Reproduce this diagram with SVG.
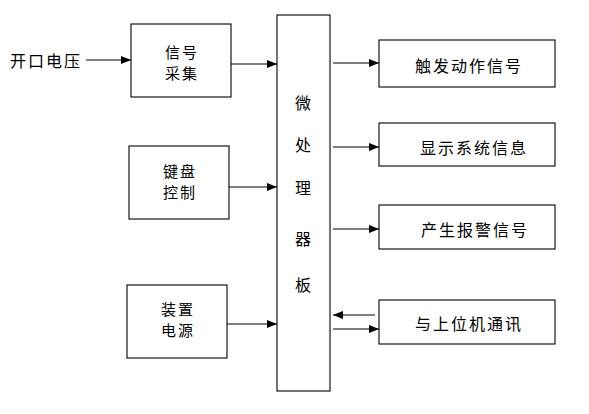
<svg xmlns="http://www.w3.org/2000/svg" width="589" height="414" viewBox="0 0 589 414">
<style>
.b{fill:#fff;stroke:#000;stroke-width:1.1}
text{font-family:"Noto Sans CJK SC","Liberation Sans",sans-serif;font-size:16px;fill:#000;text-anchor:middle;dominant-baseline:central;letter-spacing:2px}
.s{font-size:15px;letter-spacing:2px}
.c line{stroke:#000;stroke-width:1.1}
</style>
<defs>
<marker id="a" markerWidth="10" markerHeight="8" refX="10" refY="4" orient="auto" markerUnits="userSpaceOnUse">
<path d="M0,0 L10,4 L0,8 z" fill="#000"/>
</marker>
</defs>
<rect width="589" height="414" fill="#fff"/>
<text x="46" y="60">开口电压</text>
<g id="n1"><rect class="b" x="131" y="24" width="100" height="73"/><text class="s" x="182" y="51">信号</text><text class="s" x="182" y="72">采集</text></g>
<g id="n2"><rect class="b" x="129" y="146" width="100" height="73"/><text class="s" x="180" y="170">键盘</text><text class="s" x="180" y="191">控制</text></g>
<g id="n3"><rect class="b" x="127" y="285" width="100" height="73"/><text class="s" x="178" y="308">装置</text><text class="s" x="178" y="329">电源</text></g>
<g id="p"><rect class="b" x="277" y="15" width="53" height="376"/>
<text x="304" y="102">微</text><text x="304" y="144">处</text><text x="304" y="187">理</text><text x="304" y="238">器</text><text x="304" y="284">板</text></g>
<g id="r1"><rect class="b" x="379" y="40" width="176" height="47"/><text x="469" y="65">触发动作信号</text></g>
<g id="r2"><rect class="b" x="379" y="123" width="176" height="43"/><text x="474" y="147">显示系统信息</text></g>
<g id="r3"><rect class="b" x="379" y="205" width="176" height="44"/><text x="475" y="229">产生报警信号</text></g>
<g id="r4"><rect class="b" x="379" y="300" width="176" height="44"/><text x="469" y="323">与上位机通讯</text></g>
<g class="c">
<line x1="86" y1="60" x2="131" y2="60" marker-end="url(#a)"/>
<line x1="231" y1="64" x2="277" y2="64" marker-end="url(#a)"/>
<line x1="229" y1="187" x2="277" y2="187" marker-end="url(#a)"/>
<line x1="227" y1="324" x2="277" y2="324" marker-end="url(#a)"/>
<line x1="333" y1="63" x2="379" y2="63" marker-end="url(#a)"/>
<line x1="333" y1="147" x2="379" y2="147" marker-end="url(#a)"/>
<line x1="333" y1="229" x2="379" y2="229" marker-end="url(#a)"/>
<line x1="375" y1="315" x2="333" y2="315" marker-end="url(#a)"/>
<line x1="333" y1="329" x2="379" y2="329" marker-end="url(#a)"/>
</g>
</svg>
